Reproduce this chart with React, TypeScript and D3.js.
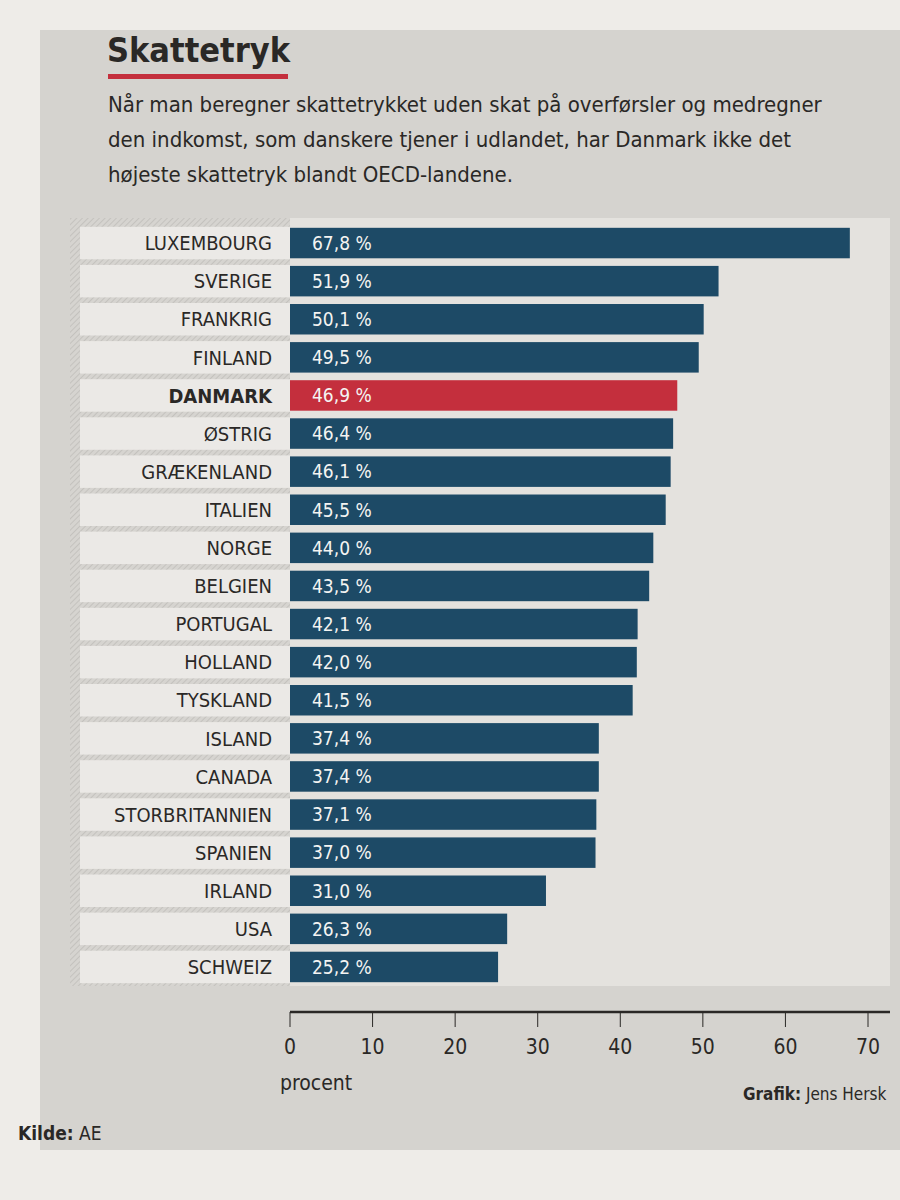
import React from 'react';
import * as d3 from 'd3';

const width = 900;
const height = 1200;

const countries = [
  'LUXEMBOURG', 'SVERIGE', 'FRANKRIG', 'FINLAND', 'DANMARK', 'ØSTRIG', 'GRÆKENLAND',
  'ITALIEN', 'NORGE', 'BELGIEN', 'PORTUGAL', 'HOLLAND', 'TYSKLAND', 'ISLAND', 'CANADA',
  'STORBRITANNIEN', 'SPANIEN', 'IRLAND', 'USA', 'SCHWEIZ',
];
const values = [
  67.8, 51.9, 50.1, 49.5, 46.9, 46.4, 46.1, 45.5, 44.0, 43.5, 42.1, 42.0, 41.5, 37.4, 37.4,
  37.1, 37.0, 31.0, 26.3, 25.2,
];
const highlight = 'DANMARK';
const xTicks = [0, 10, 20, 30, 40, 50, 60, 70];

const subtitle = [
  'Når man beregner skattetrykket uden skat på overførsler og medregner',
  'den indkomst, som danskere tjener i udlandet, har Danmark ikke det',
  'højeste skattetryk blandt OECD-landene.',
];

const font = '"DejaVu Sans Condensed", "Liberation Sans Narrow", "Roboto", sans-serif';
const blue = '#1d4a66';
const red = '#c42f3d';
const ink = '#2a2826';

const margin = { top: 224, left: 290, right: 868, bottom: 986 };

// danish number format: 67,8
const dk = d3.formatLocale({ decimal: ',', thousands: '.', grouping: [3], currency: ['', ' kr.'] });
const fmt = dk.format('.1f');

export default function App() {
  const data = countries.map((c, i) => ({ country: c, value: values[i] }));

  const x = d3.scaleLinear().domain([0, 70]).range([margin.left, margin.right]);
  const y = d3
    .scaleBand<string>()
    .domain(countries)
    .range([margin.top, margin.bottom])
    .paddingInner(0.2)
    .paddingOuter(0.1);

  return (
    <svg width={width} height={height} style={{ position: 'absolute', left: 0, top: 0, display: 'block' }}>
      <defs>
        <pattern id="hatch" width="4" height="4" patternUnits="userSpaceOnUse" patternTransform="rotate(45)">
          <rect width="4" height="4" fill="#d6d4d0" />
          <line x1="0" y1="0" x2="0" y2="4" stroke="#bebcb8" strokeWidth="1.5" />
        </pattern>
      </defs>

      {/* paper */}
      <rect width={width} height={height} fill="#eeece8" />
      {/* grey info box */}
      <rect x={40} y={30} width={width - 40} height={1120} fill="#d5d3cf" />

      {/* title */}
      <text x={107} y={62} fontFamily={font} fontWeight="bold" fontSize={34} fill={ink}>
        Skattetryk
      </text>
      <rect x={108} y={74} width={180} height={5} fill={red} />
      {subtitle.map((s, i) => (
        <text key={i} x={108} y={112 + i * 35} fontFamily={font} fontSize={22} fill={ink}>
          {s}
        </text>
      ))}

      {/* chart box */}
      <rect x={70} y={margin.top - 6} width={820} height={margin.bottom - margin.top + 6} fill="#e4e2de" />
      <rect x={70} y={margin.top - 6} width={margin.left - 70} height={margin.bottom - margin.top + 6} fill="url(#hatch)" />

      {data.map(d => {
        const yy = y(d.country) as number;
        const isDk = d.country === highlight;
        return (
          <g key={d.country}>
            <rect x={80} y={yy - 1} width={margin.left - 80} height={y.bandwidth() + 2} fill="#ebe9e6" />
            <rect x={x(0)} y={yy} width={x(d.value) - x(0)} height={y.bandwidth()} fill={isDk ? red : blue} />
            <text
              x={margin.left - 18}
              y={yy + y.bandwidth() / 2}
              dy="0.36em"
              textAnchor="end"
              fontFamily={font}
              fontSize={20}
              fontWeight={isDk ? 'bold' : 'normal'}
              fill={ink}
            >
              {d.country}
            </text>
            <text
              x={x(0) + 22}
              y={yy + y.bandwidth() / 2}
              dy="0.36em"
              fontFamily={font}
              fontSize={19}
              fill="#f4f4f2"
            >
              {fmt(d.value)} %
            </text>
          </g>
        );
      })}

      {/* x axis */}
      <g transform={`translate(0, ${margin.bottom + 26})`}>
        <line x1={x(0)} x2={890} y1={0} y2={0} stroke={ink} strokeWidth={2.5} />
        {xTicks.map(t => (
          <g key={t} transform={`translate(${x(t)}, 0)`}>
            <line y1={0} y2={15} stroke={ink} strokeWidth={1} />
            <text y={42} textAnchor="middle" fontFamily={font} fontSize={21} fill={ink}>
              {t}
            </text>
          </g>
        ))}
        <text x={x(0) - 10} y={78} fontFamily={font} fontSize={21} fill={ink}>
          procent
        </text>
      </g>

      {/* credits */}
      <text x={743} y={1100} fontFamily={font} fontSize={17} fill={ink}>
        <tspan fontWeight="bold">Grafik:</tspan> Jens Hersk
      </text>
      <text x={18} y={1140} fontFamily={font} fontSize={19} fill={ink}>
        <tspan fontWeight="bold">Kilde:</tspan> AE
      </text>
    </svg>
  );
}
